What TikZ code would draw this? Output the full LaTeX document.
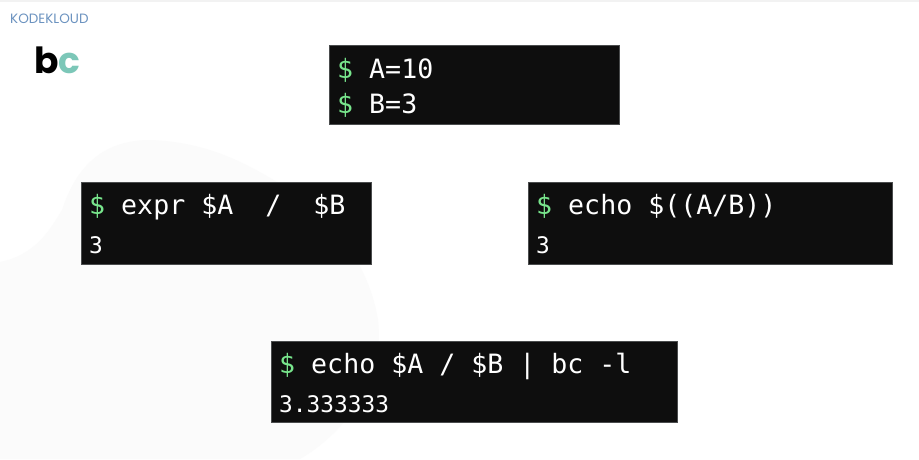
\documentclass[tikz,border=0pt]{standalone}
\usepackage{fontspec}
\setmainfont{Lato}
\setmonofont{DejaVu Sans Mono}
\newfontfamily\logofont{Poppins}
\definecolor{termblack}{HTML}{0E0E0E}
\definecolor{termgreen}{HTML}{78E58C}
\definecolor{termedge}{HTML}{4A4C4D}
\definecolor{blobgray}{HTML}{FBFBFB}
\definecolor{bcteal}{HTML}{7CC7B8}
\definecolor{kodeblue}{HTML}{6C93C0}
\def\cmdsize{26.6}
\def\outsize{22.8}
\def\prompt{\textcolor{termgreen}{\$}}
\tikzset{
  termbox/.style={draw=termedge, line width=0.4pt, fill=termblack},
  cmdtext/.style={anchor=base west, inner sep=0pt, text=white, font=\ttfamily\fontsize{\cmdsize}{\cmdsize}\selectfont},
  outtext/.style={anchor=base west, inner sep=0pt, text=white, font=\ttfamily\fontsize{\outsize}{\outsize}\selectfont}
}

\begin{document}
\begin{tikzpicture}[x=1pt,y=-1pt]
\useasboundingbox (0,0) rectangle (919,459);

% Background
\fill[white] (0,0) rectangle (919,459);
\fill[blobgray] (0,262) .. controls (35,255) and (50,230) .. (62,210) .. controls (75,170) and (100,140) .. (150,140)
  .. controls (210,142) and (250,165) .. (290,190) .. controls (340,225) and (370,270) .. (378,320)
  .. controls (385,375) and (350,430) .. (300,459) -- (0,459) -- cycle;
\fill[black!5] (0,0) rectangle (919,1.5);

% Title and logo
\node[anchor=base west, inner sep=0pt, text=kodeblue, font=\logofont\fontsize{13.5}{13.5}\selectfont] (logo) at (10,23) {KODEKLOUD};
\node[anchor=base west, inner sep=0pt, font=\logofont\bfseries\fontsize{36}{36}\selectfont] (title) at (34,73) {b\textcolor{bcteal}{c}};

% Terminal boxes
\fill[termbox] (329.5,45.5) rectangle (619,124.5);
\fill[termbox] (81.5,182.5) rectangle (371.5,264);
\fill[termbox] (528.5,182.5) rectangle (892,264);
\fill[termbox] (271.5,341.5) rectangle (677.5,422);

% Top terminal
\node[cmdtext] (setA) at (337,78) {\prompt{} A=10};
\node[cmdtext] (setB) at (337,113) {\prompt{} B=3};

% Left terminal
\node[cmdtext] (exprCmd) at (89,214) {\prompt{} expr \$A\ \ /\ \ \$B};
\node[outtext] (exprOut) at (89,253) {3};

% Right terminal
\node[cmdtext] (echoCmd) at (536,214) {\prompt{} echo \$((A/B))};
\node[outtext] (echoOut) at (536,253) {3};

% Bottom terminal
\node[cmdtext] (bcCmd) at (279,373) {\prompt{} echo \$A / \$B | bc -l};
\node[outtext] (bcOut) at (279,412) {3.333333};

\end{tikzpicture}
\end{document}
